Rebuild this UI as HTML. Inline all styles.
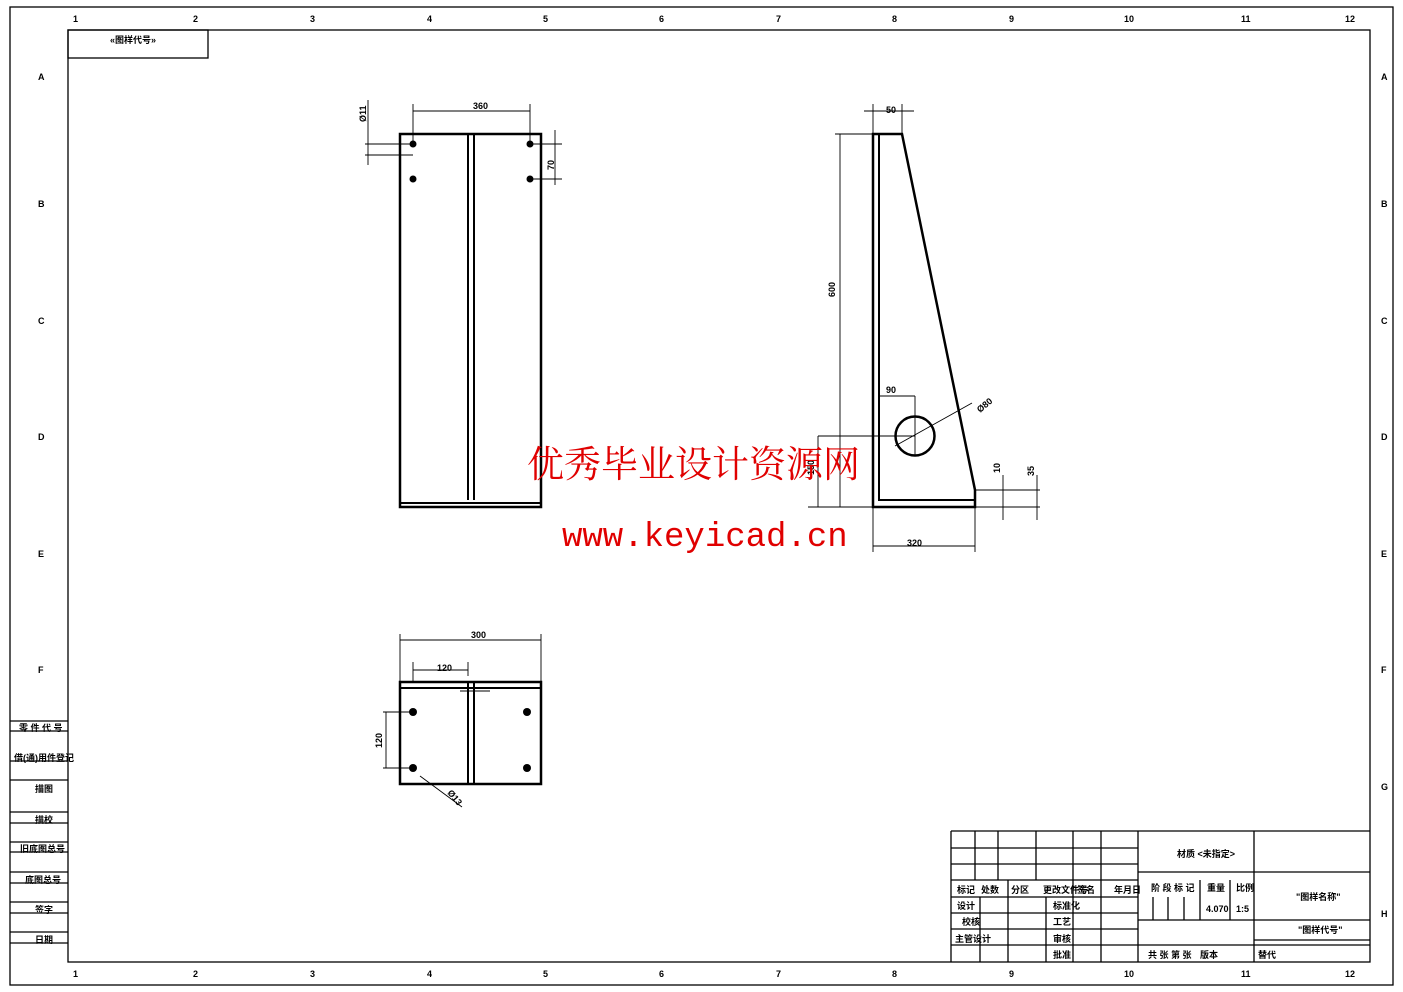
<!DOCTYPE html>
<html><head><meta charset="utf-8"><style>
html,body{margin:0;padding:0;background:#fff;}
svg{display:block;}
text{font-family:"Liberation Sans","Noto Sans CJK SC",sans-serif;fill:#000;}
</style></head><body>
<svg width="1403" height="992" viewBox="0 0 1403 992" xmlns="http://www.w3.org/2000/svg">
<g fill="none" stroke="#000" stroke-width="1.3">
<rect x="10" y="7" width="1383" height="978"/>
<rect x="68" y="30" width="1302" height="932"/>
<rect x="68" y="30" width="140" height="28"/>
<!-- left side block -->
<path d="M10 721h58M10 731h58M10 761h58M10 780h58M10 812h58M10 823h58M10 842h58M10 852h58M10 872h58M10 883h58M10 902h58M10 913h58M10 932h58M10 943h58"/>
<!-- title block -->
<path d="M951 831h419M951 831v131M951 848h187M951 864h187M951 880h187M951 897h187M951 913h187M951 929h187M951 945h187
M975 831v49M998 831v49M1036 831v49M1073 831v131M1101 831v131M1138 831v131M980 897v65M1008 880v82M1046 897v65
M1138 872h232M1138 920h116M1138 945h232M1254 831v131M1254 920h116M1254 940h116
M1153 897v23M1168 897v23M1184 897v23M1200 880v40M1230 880v40"/>
</g>
<g font-size="9" font-weight="bold">
<text x="73" y="22">1</text><text x="193" y="22">2</text><text x="310" y="22">3</text><text x="427" y="22">4</text><text x="543" y="22">5</text><text x="659" y="22">6</text><text x="776" y="22">7</text><text x="892" y="22">8</text><text x="1009" y="22">9</text><text x="1124" y="22">10</text><text x="1241" y="22">11</text><text x="1345" y="22">12</text>
<text x="73" y="977">1</text><text x="193" y="977">2</text><text x="310" y="977">3</text><text x="427" y="977">4</text><text x="543" y="977">5</text><text x="659" y="977">6</text><text x="776" y="977">7</text><text x="892" y="977">8</text><text x="1009" y="977">9</text><text x="1124" y="977">10</text><text x="1241" y="977">11</text><text x="1345" y="977">12</text>
<text x="38" y="80">A</text><text x="38" y="207">B</text><text x="38" y="324">C</text><text x="38" y="440">D</text><text x="38" y="557">E</text><text x="38" y="673">F</text>
<text x="1381" y="80">A</text><text x="1381" y="207">B</text><text x="1381" y="324">C</text><text x="1381" y="440">D</text><text x="1381" y="557">E</text><text x="1381" y="673">F</text><text x="1381" y="790">G</text><text x="1381" y="917">H</text>
<text x="110" y="43">«图样代号»</text>
<text x="19" y="731">零 件 代 号</text>
<text x="14" y="761">借(通)用件登记</text>
<text x="35" y="792">描图</text>
<text x="35" y="823">描校</text>
<text x="20" y="852">旧底图总号</text>
<text x="25" y="883">底图总号</text>
<text x="35" y="913">签字</text>
<text x="35" y="943">日期</text>
<text x="957" y="893">标记</text><text x="981" y="893">处数</text><text x="1011" y="893">分区</text><text x="1043" y="893">更改文件号</text><text x="1077" y="893">签名</text><text x="1114" y="893">年月日</text>
<text x="957" y="909">设计</text><text x="1053" y="909">标准化</text>
<text x="962" y="925">校核</text><text x="1053" y="925">工艺</text>
<text x="955" y="942">主管设计</text><text x="1053" y="942">审核</text>
<text x="1053" y="958">批准</text>
<text x="1177" y="857">材质 &lt;未指定&gt;</text>
<text x="1151" y="891">阶 段 标 记</text><text x="1207" y="891">重量</text><text x="1236" y="891">比例</text>
<text x="1206" y="912">4.070</text><text x="1236" y="912">1:5</text>
<text x="1148" y="958">共  张 第  张</text><text x="1200" y="958">版本</text><text x="1258" y="958">替代</text>
<text x="1296" y="900">"图样名称"</text>
<text x="1298" y="933">"图样代号"</text>
</g>
<g fill="none" stroke="#000">
<path d="M400 134h141v373H400z" stroke-width="2.5"/>
<path d="M468 134v366M474 134v366M400 503h141" stroke-width="2"/>
<g stroke-width="0.9">
<path d="M413 144v-40M530 144v-40M413 111h117M530 144h32M530 179h32M555 130v55M365 144h48M365 155h48M368 100v65"/>
<path d="M873 134h-38M902 134v-30M873 134v-30M864 111h50M873 507h-65M840 134v373M879 396h36M915 396v60M818 436h97M818 436v71M895 446l77-43"/>
<path d="M975 490h65M975 507h65M1003 475v45M1037 475v45M873 507v45M975 507v45M873 546h102"/>
<path d="M400 682v-48M541 682v-48M400 640h141M413 682v-20M468 676v-14M413 670h55M383 712h30M383 768h30M386 712v56M420 776l42 31M460 691h30"/>
</g>
<path d="M873 134h29L975 490v17H873z" stroke-width="2.5"/>
<path d="M879 134v366h96" stroke-width="2"/>
<circle cx="915" cy="436" r="19.5" stroke-width="2.5"/>
<path d="M400 682h141v102H400z" stroke-width="2.5"/>
<path d="M400 688h141M468 682v102M474 682v102" stroke-width="2"/>
</g>
<g fill="#000">
<circle cx="413" cy="144" r="3.5"/><circle cx="530" cy="144" r="3.5"/><circle cx="413" cy="179" r="3.5"/><circle cx="530" cy="179" r="3.5"/>
<circle cx="413" cy="712" r="4"/><circle cx="527" cy="712" r="4"/><circle cx="413" cy="768" r="4"/><circle cx="527" cy="768" r="4"/>
</g>
<g font-size="9" font-weight="bold">
<text x="473" y="109">360</text>
<text x="0" y="0" transform="translate(366 122) rotate(-90)">Ø11</text>
<text x="0" y="0" transform="translate(554 170) rotate(-90)">70</text>
<text x="886" y="113">50</text>
<text x="0" y="0" transform="translate(835 297) rotate(-90)">600</text>
<text x="886" y="393">90</text>
<text x="0" y="0" transform="translate(980 413) rotate(-40)">Ø80</text>
<text x="0" y="0" transform="translate(814 475) rotate(-90)">150</text>
<text x="0" y="0" transform="translate(1000 473) rotate(-90)">10</text>
<text x="0" y="0" transform="translate(1034 476) rotate(-90)">35</text>
<text x="907" y="546">320</text>
<text x="471" y="638">300</text>
<text x="437" y="671">120</text>
<text x="0" y="0" transform="translate(382 748) rotate(-90)">120</text>
<text x="0" y="0" transform="translate(447 793) rotate(50)">Ø13</text>
</g>
<text x="527" y="477" font-size="37" style="fill:#e00000;font-family:'Noto Serif CJK SC','Noto Sans CJK SC',serif">优秀毕业设计资源网</text>
<text x="562" y="546" font-size="34" style="fill:#e00000;font-family:'Liberation Mono',monospace">www.keyicad.cn</text>
</svg>
</body></html>
